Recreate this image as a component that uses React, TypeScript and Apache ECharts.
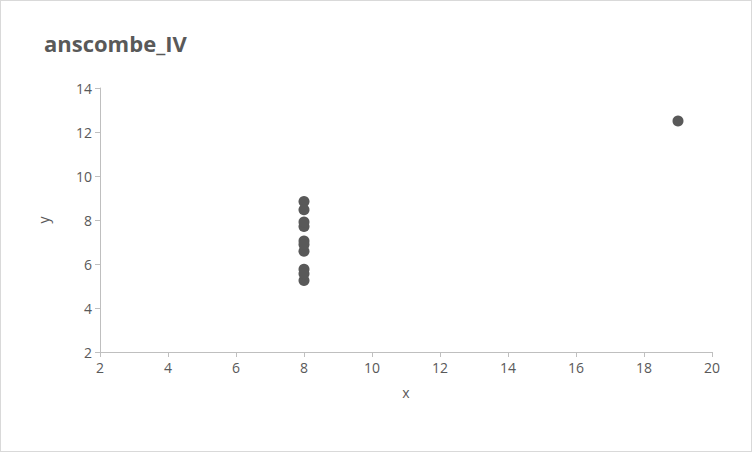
import React, { useEffect, useRef } from "react";
import * as echarts from "echarts";

const xValues = [8, 8, 8, 8, 8, 8, 8, 19, 8, 8, 8];
const yValues = [6.58, 5.76, 7.71, 8.84, 8.47, 7.04, 5.25, 12.5, 5.56, 7.91, 6.89];
const titleText = "anscombe_IV";

export default function App() {
  const ref = useRef<HTMLDivElement>(null);
  useEffect(() => {
    const chart = echarts.init(ref.current!, null, { renderer: "svg" });
    const axisCommon = {
      axisLine: { show: true, lineStyle: { color: "#bfbfbf" } },
      axisTick: { show: true, lineStyle: { color: "#bfbfbf" }, length: 5 },
      axisLabel: { color: "#595959", fontSize: 14, fontFamily: "Open Sans" },
      splitLine: { show: false },
      nameTextStyle: { color: "#595959", fontSize: 14, fontFamily: "Open Sans" },
    };
    chart.setOption({
      animation: false,
      backgroundColor: "#fff",
      title: {
        text: titleText,
        left: 38,
        top: 26,
        textStyle: { color: "#595959", fontSize: 22, fontWeight: "bold", fontFamily: "Open Sans" },
      },
      grid: { left: 99, right: 39, top: 87, bottom: 99 },
      xAxis: {
        type: "value", min: 2, max: 20, interval: 2, name: "x",
        nameLocation: "middle", nameGap: 33, ...axisCommon,
      },
      yAxis: {
        type: "value", min: 2, max: 14, interval: 2, name: "y",
        nameLocation: "middle", nameGap: 50, ...axisCommon,
      },
      series: [{
        type: "scatter",
        symbolSize: 11,
        itemStyle: { color: "#595959", opacity: 1 },
        data: xValues.map((x, i) => [x, yValues[i]]),
      }],
    });
    return () => chart.dispose();
  }, []);
  return (
    <div
      ref={ref}
      style={{ position: "fixed", left: 0, top: 0, width: 752, height: 452, boxSizing: "border-box", border: "1px solid #d9d9d9" }}
    />
  );
}
